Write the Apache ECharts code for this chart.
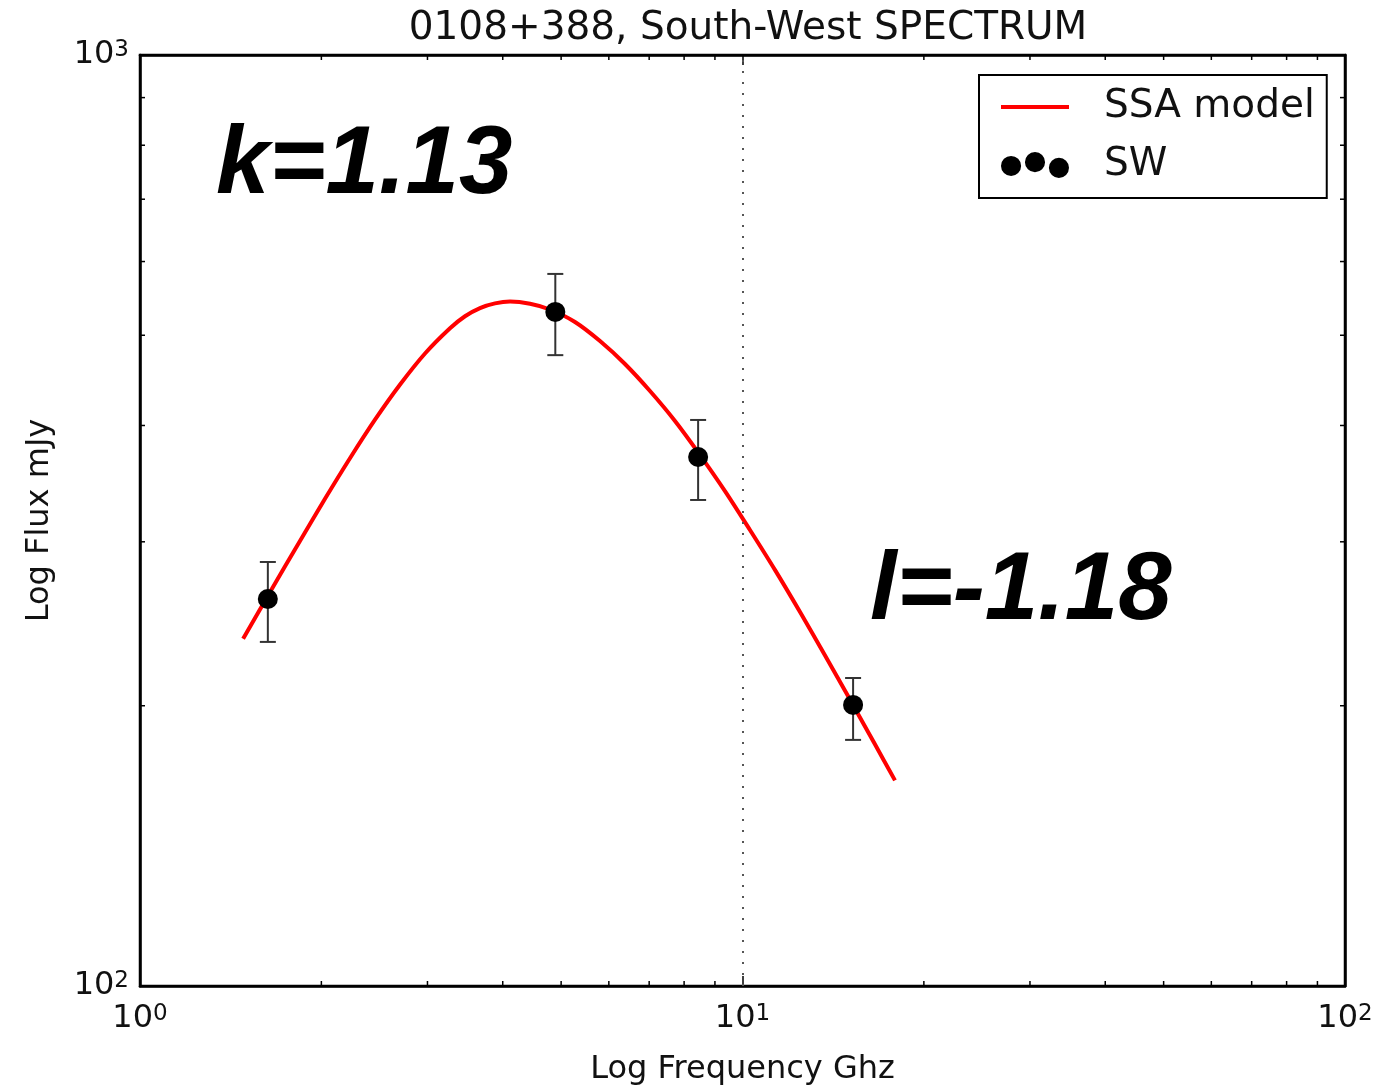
<!DOCTYPE html>
<html>
<head>
<meta charset="utf-8">
<title>0108+388, South-West SPECTRUM</title>
<script src="https://cdn.jsdelivr.net/npm/echarts@6/dist/echarts.min.js"></script>
<style>
  html, body { margin: 0; padding: 0; background: #fff; }
  #chart { width: 1383px; height: 1089px; }
</style>
</head>
<body>
<div id="chart"></div>
<script>
// Axis ranges (log scales)
const xRange = [1, 100];
const yRange = [100, 1000];

// Minor tick positions of the log axes
const xMinorTicks = [2, 3, 4, 5, 6, 7, 8, 9, 20, 30, 40, 50, 60, 70, 80, 90];
const yMinorTicks = [200, 300, 400, 500, 600, 700, 800, 900];

// SSA model curve (frequency in GHz, flux in mJy)
const modelFreq = [1.483, 1.644, 1.844, 2.028, 2.231, 2.455, 2.702, 2.972, 3.270, 3.463, 3.667, 3.883, 4.113, 4.440, 4.792, 5.272, 5.801, 6.382, 7.022, 7.726, 8.503, 9.353, 10.29, 11.32, 12.46, 13.71, 15.08, 16.59, 17.91];
const modelFlux = [236.0, 265.0, 300.8, 333.7, 368.9, 405.8, 442.7, 478.0, 508.8, 524.1, 534.8, 541.0, 543.5, 540.5, 532.9, 516.7, 492.9, 465.7, 435.6, 404.5, 371.8, 340.1, 308.9, 279.9, 252.2, 226.5, 203.1, 181.8, 166.3];

// South-West component measurements with error limits
const swFreq = [1.63, 4.89, 8.44, 15.26];
const swFlux = [260.4, 529.7, 370.0, 200.4];
const swLow = [234.2, 476.0, 332.7, 183.8];
const swHigh = [285.4, 581.9, 405.5, 214.2];

// Reference frequency marked by the dotted line
const refFreq = 10;

const FONT = 'DejaVu Sans';

const chart = echarts.init(document.getElementById('chart'), null, { renderer: 'canvas' });

function powLabel(value) {
  const e = Math.round(Math.log10(value));
  return '{b|10}{s|' + e + '}';
}
const powRich = {
  b: { fontFamily: FONT, fontSize: 32, lineHeight: 32, color: '#111' },
  s: { fontFamily: FONT, fontSize: 23, lineHeight: 8, verticalAlign: 'top', color: '#111' }
};

const majorTick = { show: true, inside: true, length: 10, lineStyle: { color: '#000', width: 1.5 } };

function xMinorItem(params, api) {
  const v = api.value(0);
  const b = api.coord([v, yRange[0]]);
  const t = api.coord([v, yRange[1]]);
  const st = { stroke: '#000', lineWidth: 1.5 };
  return {
    type: 'group',
    children: [
      { type: 'line', shape: { x1: b[0], y1: b[1], x2: b[0], y2: b[1] - 5 }, style: st },
      { type: 'line', shape: { x1: t[0], y1: t[1], x2: t[0], y2: t[1] + 5 }, style: st }
    ]
  };
}

function yMinorItem(params, api) {
  const v = api.value(1);
  const l = api.coord([xRange[0], v]);
  const r = api.coord([xRange[1], v]);
  const st = { stroke: '#000', lineWidth: 1.5 };
  return {
    type: 'group',
    children: [
      { type: 'line', shape: { x1: l[0], y1: l[1], x2: l[0] + 5, y2: l[1] }, style: st },
      { type: 'line', shape: { x1: r[0], y1: r[1], x2: r[0] - 5, y2: r[1] }, style: st }
    ]
  };
}

function errorBarItem(params, api) {
  const x = api.value(0);
  const lo = api.coord([x, api.value(1)]);
  const hi = api.coord([x, api.value(2)]);
  const cap = 8;
  const st = { stroke: '#333', lineWidth: 2 };
  return {
    type: 'group',
    children: [
      { type: 'line', shape: { x1: lo[0], y1: lo[1], x2: hi[0], y2: hi[1] }, style: st },
      { type: 'line', shape: { x1: lo[0] - cap, y1: lo[1], x2: lo[0] + cap, y2: lo[1] }, style: st },
      { type: 'line', shape: { x1: hi[0] - cap, y1: hi[1], x2: hi[0] + cap, y2: hi[1] }, style: st }
    ]
  };
}

// three-dot legend marker
const dotsIcon = 'path://' +
  'M0,14.5 a10.5,10.5 0 1,0 21,0 a10.5,10.5 0 1,0 -21,0 z ' +
  'M25,10.5 a10.5,10.5 0 1,0 21,0 a10.5,10.5 0 1,0 -21,0 z ' +
  'M50,16.5 a10.5,10.5 0 1,0 21,0 a10.5,10.5 0 1,0 -21,0 z';

const option = {
  backgroundColor: '#fff',
  animation: false,
  title: {
    text: '0108+388, South-West SPECTRUM',
    left: 743,
    textAlign: 'center',
    top: 4,
    textStyle: { fontFamily: FONT, fontSize: 39, fontWeight: 'normal', color: '#111' }
  },
  grid: {
    left: 140, right: 38, top: 55, bottom: 103,
    outerBoundsMode: 'none',
    containLabel: false,
    show: true, borderColor: '#000', borderWidth: 2.5, backgroundColor: 'transparent'
  },
  legend: {
    orient: 'vertical',
    left: 979, top: 75,
    padding: [12, 12, 13, 20],
    borderColor: '#000', borderWidth: 2,
    itemWidth: 68, itemHeight: 27, itemGap: 18,
    textStyle: { fontFamily: FONT, fontSize: 39, lineHeight: 40, color: '#111', padding: [0, 0, 0, 30] },
    data: [
      {
        name: 'SSA model',
        itemStyle: { color: 'rgba(0,0,0,0)', borderColor: 'rgba(0,0,0,0)', borderWidth: 0 },
        lineStyle: { color: '#ff0000', width: 4 }
      },
      { name: 'SW', icon: dotsIcon, itemStyle: { color: '#000', opacity: 1 } }
    ]
  },
  xAxis: [
    {
      type: 'log', logBase: 10, min: xRange[0], max: xRange[1],
      name: 'Log Frequency Ghz', nameLocation: 'middle', nameGap: 68,
      nameTextStyle: { fontFamily: FONT, fontSize: 32, color: '#111' },
      axisLine: { show: true, lineStyle: { color: '#000', width: 2.5 } },
      axisTick: majorTick,
      axisLabel: { formatter: powLabel, rich: powRich, margin: 17 },
      splitLine: { show: false }
    },
    {
      type: 'log', logBase: 10, min: xRange[0], max: xRange[1], position: 'top',
      axisLine: { show: true, lineStyle: { color: '#000', width: 2.5 } },
      axisTick: majorTick, axisLabel: { show: false }, splitLine: { show: false }
    }
  ],
  yAxis: [
    {
      type: 'log', logBase: 10, min: yRange[0], max: yRange[1],
      name: 'Log Flux mJy', nameLocation: 'middle', nameGap: 84,
      nameTextStyle: { fontFamily: FONT, fontSize: 32, color: '#111' },
      axisLine: { show: true, lineStyle: { color: '#000', width: 2.5 } },
      axisTick: majorTick,
      axisLabel: { formatter: powLabel, rich: powRich, margin: 11 },
      splitLine: { show: false }
    },
    {
      type: 'log', logBase: 10, min: yRange[0], max: yRange[1], position: 'right',
      axisLine: { show: true, lineStyle: { color: '#000', width: 2.5 } },
      axisTick: majorTick, axisLabel: { show: false }, splitLine: { show: false }
    }
  ],
  graphic: [
    {
      type: 'text', z: 100,
      style: {
        text: 'k=1.13', x: 216, y: 167, align: 'left', verticalAlign: 'middle',
        fontFamily: 'Liberation Sans', fontSize: 96, fontWeight: 'bold', fontStyle: 'italic', fill: '#000'
      }
    },
    {
      type: 'text', z: 100,
      style: {
        text: 'l=-1.18', x: 870, y: 593, align: 'left', verticalAlign: 'middle',
        fontFamily: 'Liberation Sans', fontSize: 96, fontWeight: 'bold', fontStyle: 'italic', fill: '#000'
      }
    }
  ],
  series: [
    {
      name: 'x minor ticks', type: 'custom', renderItem: xMinorItem, silent: true, clip: false,
      data: xMinorTicks.map(v => [v, yRange[0]]), encode: { x: 0, y: 1 }, z: 5
    },
    {
      name: 'y minor ticks', type: 'custom', renderItem: yMinorItem, silent: true, clip: false,
      data: yMinorTicks.map(v => [xRange[0], v]), encode: { x: 0, y: 1 }, z: 5
    },
    {
      name: 'SSA model', type: 'line', symbol: 'none', smooth: 0.3,
      data: modelFreq.map((f, i) => [f, modelFlux[i]]),
      lineStyle: { color: '#ff0000', width: 4 },
      itemStyle: { color: '#ff0000' },
      z: 3
    },
    {
      name: 'SW errors', type: 'custom', renderItem: errorBarItem, silent: true,
      data: swFreq.map((f, i) => [f, swLow[i], swHigh[i]]), encode: { x: 0, y: [1, 2] }, z: 2
    },
    {
      name: 'SW', type: 'scatter', symbol: 'circle', symbolSize: 20,
      data: swFreq.map((f, i) => [f, swFlux[i]]),
      itemStyle: { color: '#000', opacity: 1 },
      z: 4,
      markLine: {
        silent: true, symbol: 'none', label: { show: false },
        lineStyle: { color: '#555', width: 2, type: [2, 9] },
        data: [{ xAxis: refFreq }]
      }
    }
  ]
};

chart.setOption(option);
</script>
</body>
</html>
